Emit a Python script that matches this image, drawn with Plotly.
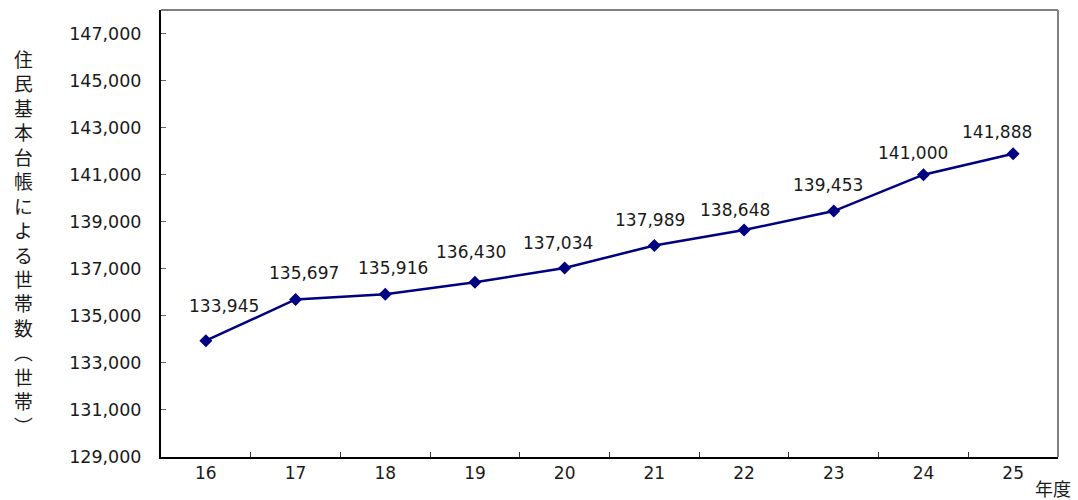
import plotly.graph_objects as go

# Data
years = ["16", "17", "18", "19", "20", "21", "22", "23", "24", "25"]
households = [133945, 135697, 135916, 136430, 137034, 137989, 138648, 139453, 141000, 141888]
y_ticks = [129000, 131000, 133000, 135000, 137000, 139000, 141000, 143000, 145000, 147000]
y_title_chars = ["住", "民", "基", "本", "台", "帳", "に", "よ", "る", "世", "帯", "数", "︵", "世", "帯", "︶"]
x_unit = "年度"

# Label offsets (style: pixel shifts for the data labels)
label_dx = [18, 8, 8, -4, -7, -4, -9, -6, -10, -16]
label_dy = [35, 26, 26, 30, 25, 26, 20, 26, 22, 22]

FONT = "DejaVu Sans"
TXT = "#1a1a1a"
L, R, T, B = 161, 20, 10, 43
W, H = 1078, 500
PW, PH = W - L - R, H - T - B

fig = go.Figure()
fig.add_trace(go.Scatter(
    x=years, y=households, mode="lines+markers",
    line=dict(color="#000080", width=2.5),
    marker=dict(symbol="diamond", size=10, color="#000080"),
    hoverinfo="x+y", showlegend=False,
))

for i, (v, dx, dy) in enumerate(zip(households, label_dx, label_dy)):
    fig.add_annotation(
        x=i, y=v, xref="x", yref="y", text=f"{v:,}", showarrow=False,
        xshift=dx, yshift=dy, font=dict(family=FONT, size=17, color=TXT),
        xanchor="center", yanchor="middle",
    )

fig.add_annotation(
    x=(23 - L) / PW, y=1 - (242 - T) / PH, xref="paper", yref="paper",
    text="<br>".join(y_title_chars),
    showarrow=False, xanchor="center", yanchor="middle",
    font=dict(family="Noto Sans CJK JP", size=18.8, color=TXT),
)

fig.add_annotation(
    x=(1053 - L) / PW, y=1 - (488 - T) / PH, xref="paper", yref="paper",
    text=x_unit, showarrow=False, xanchor="center", yanchor="middle",
    font=dict(family="Noto Sans CJK JP", size=18, color=TXT),
)

# gray top/right frame
fig.add_shape(type="line", xref="paper", yref="paper", x0=0, x1=1, y0=1, y1=1,
              line=dict(color="#808080", width=2))
fig.add_shape(type="line", xref="paper", yref="paper", x0=1, x1=1, y0=0, y1=1,
              line=dict(color="#808080", width=2))

fig.update_layout(
    width=W, height=H,
    margin=dict(l=L, r=R, t=T, b=B),
    paper_bgcolor="white", plot_bgcolor="white",
    font=dict(family=FONT, size=17, color=TXT),
    xaxis=dict(
        type="category", tickson="boundaries", ticks="inside", ticklen=5,
        tickcolor="#333", tickwidth=1, showline=True, linecolor="black", linewidth=2,
        showgrid=False, zeroline=False, tickfont=dict(family=FONT, size=17, color=TXT),
        range=[-0.5, 9.5],
    ),
    yaxis=dict(
        range=[129000, 148000], tickvals=y_ticks, tickformat=",d",
        ticks="inside", ticklen=5, tickcolor="#666", tickwidth=1,
        showline=True, linecolor="black", linewidth=2, showgrid=False, zeroline=False,
        tickfont=dict(family=FONT, size=17.5, color=TXT), ticklabelstandoff=14,
    ),
)

fig.write_html("out.html")
